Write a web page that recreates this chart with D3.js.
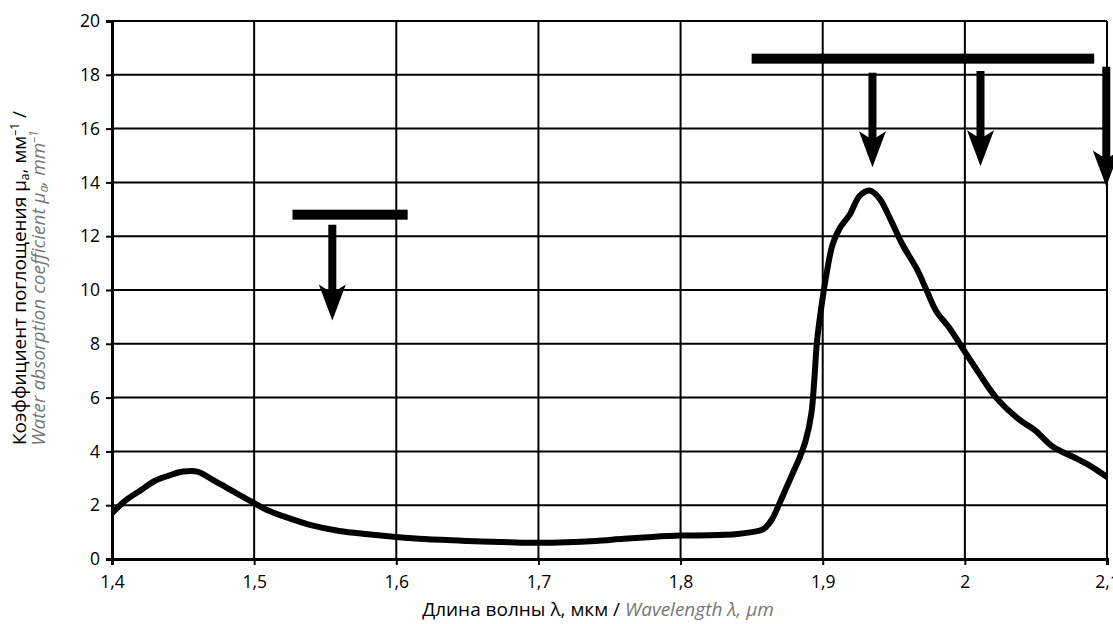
<!DOCTYPE html>
<html>
<head>
<meta charset="utf-8">
<script src="https://cdn.jsdelivr.net/npm/d3@7"></script>
<style>
  html, body { margin: 0; padding: 0; background: #fff; overflow: hidden; }
  text { font-family: "Open Sans", "Noto Sans", sans-serif; }
</style>
</head>
<body>
<svg id="chart" width="1140" height="624"></svg>
<script>
// Длина волны, мкм
const wavelength = [1.400, 1.410, 1.420, 1.430, 1.440, 1.450, 1.460, 1.470, 1.480, 1.490,
  1.500, 1.510, 1.520, 1.540, 1.560, 1.580, 1.600, 1.620, 1.650, 1.680,
  1.700, 1.720, 1.740, 1.760, 1.780, 1.800, 1.820, 1.840, 1.850, 1.858,
  1.864, 1.869, 1.874, 1.879, 1.884, 1.888, 1.892, 1.894, 1.896, 1.899,
  1.903, 1.907, 1.912, 1.919, 1.926, 1.933, 1.940, 1.947, 1.956, 1.966,
  1.973, 1.980, 1.989, 1.998, 2.010, 2.022, 2.039, 2.049, 2.062, 2.076,
  2.087, 2.100];
// Коэффициент поглощения, мм^-1
const absorption = [1.70, 2.20, 2.55, 2.90, 3.10, 3.25, 3.25, 2.97, 2.67, 2.37,
  2.08, 1.80, 1.60, 1.26, 1.04, 0.92, 0.82, 0.74, 0.67, 0.62,
  0.60, 0.62, 0.67, 0.75, 0.82, 0.87, 0.88, 0.93, 1.00, 1.10,
  1.45, 2.00, 2.60, 3.20, 3.80, 4.40, 5.40, 6.60, 8.10, 9.35,
  10.7, 11.7, 12.3, 12.8, 13.5, 13.7, 13.4, 12.7, 11.7, 10.8,
  10.0, 9.20, 8.60, 7.87, 6.90, 6.00, 5.15, 4.80, 4.17, 3.80,
  3.50, 3.05];

const xTicks = [1.4, 1.5, 1.6, 1.7, 1.8, 1.9, 2.0, 2.1];
const yTicks = [0, 2, 4, 6, 8, 10, 12, 14, 16, 18, 20];

// горизонтальные планки (диапазоны) и стрелки
const bars = [
  {from: 1.527, to: 1.608, level: 12.8},
  {from: 1.850, to: 2.091, level: 18.6}
];
const arrows = [
  {at: 1.555, top: 12.43, tip: 8.87},
  {at: 1.935, top: 18.08, tip: 14.56},
  {at: 2.011, top: 18.14, tip: 14.60},
  {at: 2.0995, top: 18.30, tip: 13.85}
];

const data = wavelength.map((w, i) => ({w: w, v: absorption[i]}));

const svg = d3.select("#chart"),
      margin = {top: 21, left: 112},
      width = 995,
      height = 538;

const g = svg.append("g")
  .attr("transform", `translate(${margin.left},${margin.top})`);

const x = d3.scaleLinear().domain([1.4, 2.1]).range([0, width]);
const y = d3.scaleLinear().domain([0, 20]).range([height, 0]);

const fmt = d => String(+d.toFixed(1)).replace(".", ",");

// сетка
g.append("g")
  .selectAll("line.h")
  .data(yTicks)
  .enter().append("line")
    .attr("x1", 0).attr("x2", width)
    .attr("y1", d => y(d)).attr("y2", d => y(d))
    .attr("stroke", "#000").attr("stroke-width", 2);

g.append("g")
  .selectAll("line.v")
  .data(xTicks)
  .enter().append("line")
    .attr("x1", d => x(d)).attr("x2", d => x(d))
    .attr("y1", 0).attr("y2", height)
    .attr("stroke", "#000").attr("stroke-width", 2);

// оси
const xAxis = g.append("g")
  .attr("transform", `translate(0,${height})`)
  .call(d3.axisBottom(x).tickValues(xTicks).tickFormat(fmt).tickSize(6).tickPadding(11));
const yAxis = g.append("g")
  .call(d3.axisLeft(y).tickValues(yTicks).tickSize(6).tickPadding(6));

[xAxis, yAxis].forEach(a => {
  a.select(".domain").attr("stroke", "#000").attr("stroke-width", 3);
  a.selectAll(".tick line").attr("stroke", "#000").attr("stroke-width", 2);
  a.selectAll("text")
    .style("font-size", "17.5px")
    .style("fill", "#000")
    .style("font-family", "'Open Sans', sans-serif");
});

// кривая
g.append("clipPath").attr("id", "plotClip")
  .append("rect").attr("x", 0).attr("y", -2).attr("width", width).attr("height", height + 2);

g.append("path")
  .datum(data)
  .attr("clip-path", "url(#plotClip)")
  .attr("fill", "none")
  .attr("stroke", "#000")
  .attr("stroke-width", 6)
  .attr("stroke-linejoin", "round")
  .attr("stroke-linecap", "round")
  .attr("d", d3.line().x(d => x(d.w)).y(d => y(d.v)).curve(d3.curveCatmullRom.alpha(0.5)));

// планки
g.selectAll("rect.bar")
  .data(bars)
  .enter().append("rect")
    .attr("class", "bar")
    .attr("x", d => x(d.from))
    .attr("width", d => x(d.to) - x(d.from))
    .attr("y", d => y(d.level) - 5)
    .attr("height", 10)
    .attr("fill", "#000");

// стрелки
const shaftW = 4, headW = 13.5, headL = 36;
g.selectAll("path.arrow")
  .data(arrows)
  .enter().append("path")
    .attr("class", "arrow")
    .attr("fill", "#000")
    .attr("d", d => {
      const cx = x(d.at), t = y(d.top), tip = y(d.tip), hb = tip - headL;
      return `M${cx - shaftW},${t} L${cx + shaftW},${t} L${cx + shaftW},${hb + 6}
              L${cx + headW},${hb} L${cx},${tip} L${cx - headW},${hb}
              L${cx - shaftW},${hb + 6} Z`;
    });

// подписи осей
svg.append("text")
  .attr("x", 598)
  .attr("y", 616)
  .attr("text-anchor", "middle")
  .style("font-size", "19px")
  .call(t => {
    t.append("tspan").attr("fill", "#000").text("Длина волны λ, мкм / ");
    t.append("tspan").attr("fill", "#777").style("font-style", "italic").text("Wavelength λ, μm");
  });

const yl = svg.append("text")
  .attr("transform", "translate(26,278) rotate(-90)")
  .attr("text-anchor", "middle")
  .style("font-size", "19px");
yl.append("tspan").attr("fill", "#000").text("Коэффициент поглощения μ");
yl.append("tspan").attr("fill", "#000").attr("font-size", "12px").attr("baseline-shift", "-3").text("a");
yl.append("tspan").attr("fill", "#000").text(", мм");
yl.append("tspan").attr("fill", "#000").attr("font-size", "12px").attr("baseline-shift", "7").text("–1");
yl.append("tspan").attr("fill", "#000").text(" /");

const yl2 = svg.append("text")
  .attr("transform", "translate(45,288) rotate(-90)")
  .attr("text-anchor", "middle")
  .style("font-size", "19px")
  .style("font-style", "italic")
  .attr("fill", "#777");
yl2.append("tspan").text("Water absorption coefficient μ");
yl2.append("tspan").attr("font-size", "12px").attr("baseline-shift", "-3").text("a");
yl2.append("tspan").text(", mm");
yl2.append("tspan").attr("font-size", "12px").attr("baseline-shift", "7").text("–1");
</script>
</body>
</html>
